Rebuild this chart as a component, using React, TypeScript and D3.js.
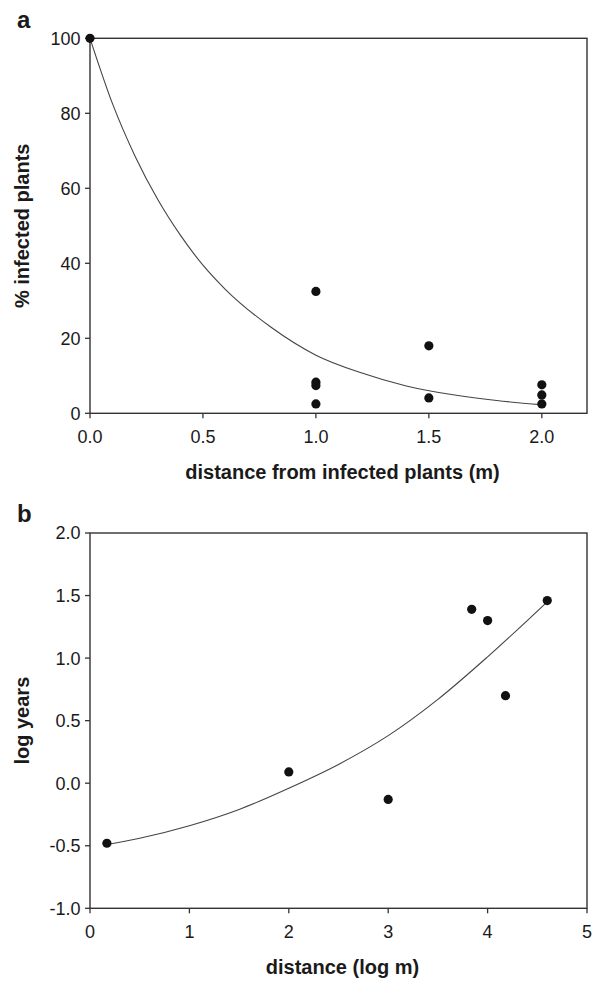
import React from "react";
import * as d3 from "d3";

// Panel a: observed points
const aPointX = [0, 1.0, 1.0, 1.0, 1.0, 1.5, 1.5, 2.0, 2.0, 2.0];
const aPointY = [100, 32.5, 8.3, 7.4, 2.5, 18, 4.1, 7.6, 4.9, 2.5];
// Panel a: fitted curve
const aCurveX = [0, 0.1, 0.2, 0.3, 0.4, 0.5, 0.6, 0.8, 1.0, 1.2, 1.4, 1.6, 1.8, 2.0];
const aCurveY = [100, 82.5, 68.5, 57, 47.5, 39.5, 33, 23, 15.5, 10.8, 7.3, 5, 3.4, 2.3];
const aXTicks = [0, 0.5, 1.0, 1.5, 2.0];
const aYTicks = [0, 20, 40, 60, 80, 100];

// Panel b: observed points
const bPointX = [0.17, 2.0, 3.0, 3.84, 4.0, 4.18, 4.6];
const bPointY = [-0.48, 0.09, -0.13, 1.39, 1.3, 0.7, 1.46];
// Panel b: fitted curve
const bCurveX = [0.17, 0.5, 1.0, 1.5, 2.0, 2.5, 3.0, 3.5, 4.0, 4.6];
const bCurveY = [-0.49, -0.44, -0.34, -0.21, -0.04, 0.15, 0.38, 0.67, 1.01, 1.45];
const bXTicks = [0, 1, 2, 3, 4, 5];
const bYTicks = [-1.0, -0.5, 0.0, 0.5, 1.0, 1.5, 2.0];

const FONT = "'Liberation Sans', Arial, Helvetica, sans-serif";
const INK = "#1a1a1a";
const AXIS = "#333";

type PanelProps = {
  letter: string;
  top: number;
  bottom: number;
  left: number;
  right: number;
  xDomain: [number, number];
  yDomain: [number, number];
  xTicks: number[];
  yTicks: number[];
  xFmt: (v: number) => string;
  yFmt: (v: number) => string;
  px: number[];
  py: number[];
  cx: number[];
  cy: number[];
  xTitle: string;
  yTitle: string;
  xTitleY: number;
  letterY: number;
};

function Panel(p: PanelProps) {
  const x = d3.scaleLinear().domain(p.xDomain).range([p.left, p.right]);
  const y = d3.scaleLinear().domain(p.yDomain).range([p.bottom, p.top]);
  const line = d3
    .line<number>()
    .x((_, i) => x(p.cx[i]))
    .y((_, i) => y(p.cy[i]))
    .curve(d3.curveMonotoneX);
  const idx = p.cx.map((_, i) => i);
  const midY = (p.top + p.bottom) / 2;
  return (
    <g>
      <text x={17} y={p.letterY} fontFamily={FONT} fontWeight="bold" fontSize={24} fill={INK}>
        {p.letter}
      </text>
      <rect
        x={p.left}
        y={p.top}
        width={p.right - p.left}
        height={p.bottom - p.top}
        fill="none"
        stroke={AXIS}
        strokeWidth={1.4}
      />
      {p.yTicks.map((t) => (
        <g key={"y" + t}>
          <line x1={p.left - 5} x2={p.left} y1={y(t)} y2={y(t)} stroke={AXIS} strokeWidth={1.3} />
          <text
            x={p.left - 9.5}
            y={y(t)}
            dy="0.36em"
            textAnchor="end"
            fontFamily={FONT}
            fontSize={18}
            fill={INK}
          >
            {p.yFmt(t)}
          </text>
        </g>
      ))}
      {p.xTicks.map((t) => (
        <g key={"x" + t}>
          <line x1={x(t)} x2={x(t)} y1={p.bottom} y2={p.bottom + 5} stroke={AXIS} strokeWidth={1.3} />
          <text
            x={x(t)}
            y={p.bottom + 30}
            textAnchor="middle"
            fontFamily={FONT}
            fontSize={18}
            fill={INK}
          >
            {p.xFmt(t)}
          </text>
        </g>
      ))}
      <path d={line(idx) || ""} fill="none" stroke="#444" strokeWidth={1.1} />
      {p.px.map((v, i) => (
        <circle key={"p" + i} cx={x(v)} cy={y(p.py[i])} r={4.6} fill="#111" />
      ))}
      <text
        x={(p.left + p.right) / 2 + 4}
        y={p.xTitleY}
        textAnchor="middle"
        fontFamily={FONT}
        fontWeight="bold"
        fontSize={20}
        fill={INK}
      >
        {p.xTitle}
      </text>
      <text
        transform={`translate(29,${midY}) rotate(-90)`}
        textAnchor="middle"
        fontFamily={FONT}
        fontWeight="bold"
        fontSize={20}
        fill={INK}
      >
        {p.yTitle}
      </text>
    </g>
  );
}

export default function App() {
  return (
    <svg
      width={593}
      height={981}
      style={{ position: "absolute", left: 0, top: 0, background: "#fff" }}
    >
      <rect x={0} y={0} width={593} height={981} fill="#fff" />
      <Panel
        letter="a"
        letterY={28}
        top={38.3}
        bottom={413.3}
        left={90}
        right={587}
        xDomain={[0, 2.2]}
        yDomain={[0, 100]}
        xTicks={aXTicks}
        yTicks={aYTicks}
        xFmt={(v) => v.toFixed(1)}
        yFmt={(v) => String(v)}
        px={aPointX}
        py={aPointY}
        cx={aCurveX}
        cy={aCurveY}
        xTitle="distance from infected plants (m)"
        yTitle="% infected plants"
        xTitleY={479}
      />
      <Panel
        letter="b"
        letterY={522}
        top={533}
        bottom={908.3}
        left={90}
        right={587}
        xDomain={[0, 5]}
        yDomain={[-1, 2]}
        xTicks={bXTicks}
        yTicks={bYTicks}
        xFmt={(v) => String(v)}
        yFmt={(v) => v.toFixed(1)}
        px={bPointX}
        py={bPointY}
        cx={bCurveX}
        cy={bCurveY}
        xTitle="distance (log m)"
        yTitle="log years"
        xTitleY={974}
      />
    </svg>
  );
}
